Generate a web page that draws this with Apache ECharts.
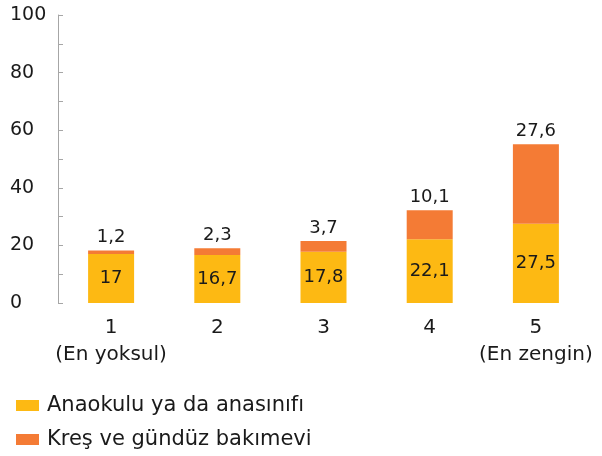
<!DOCTYPE html>
<html>
<head>
<meta charset="utf-8">
<script src="https://cdn.jsdelivr.net/npm/echarts@6/dist/echarts.min.js"></script>
<style>
html, body { margin: 0; padding: 0; background: #fff; }
#chart { width: 602px; height: 456px; }
</style>
</head>
<body>
<div id="chart"></div>
<script>
// quintiles and shares
var categories = ['1\n(En yoksul)', '2', '3', '4', '5\n(En zengin)'];
var anaokulu = [17, 16.7, 17.8, 22.1, 27.5];
var kres = [1.2, 2.3, 3.7, 10.1, 27.6];
var seriesNames = ['Anaokulu ya da anasınıfı', 'Kreş ve gündüz bakımevi'];

var chart = echarts.init(document.getElementById('chart'));

function comma(p) {
  return String(p.value).replace('.', ',');
}

var option = {
  backgroundColor: '#fff',
  textStyle: { fontFamily: 'DejaVu Sans', color: '#1a1a1a' },
  grid: { left: 58, right: 13, top: 15, bottom: 153 },
  legend: {
    orient: 'vertical',
    left: 11,
    top: 390,
    itemWidth: 23,
    itemHeight: 11,
    itemGap: 13,
    icon: 'rect',
    textStyle: { fontSize: 21, color: '#1a1a1a', padding: [0, 0, 0, 3] },
    data: seriesNames
  },
  xAxis: {
    type: 'category',
    data: categories,
    axisLine: { show: false },
    axisTick: { show: false },
    axisLabel: { interval: 0, fontSize: 20, color: '#1a1a1a', margin: 11, lineHeight: 27 }
  },
  yAxis: {
    type: 'value',
    min: 0,
    max: 100,
    interval: 10,
    axisLine: { show: true, lineStyle: { color: '#a6a6a6' } },
    axisTick: { show: true, inside: true, length: 5, lineStyle: { color: '#a6a6a6' } },
    splitLine: { show: false },
    axisLabel: {
      fontSize: 19,
      color: '#1a1a1a',
      align: 'left',
      margin: 48,
      formatter: function (v) { return v % 20 === 0 ? v : ''; }
    }
  },
  series: [{
    name: seriesNames[0],
    type: 'bar',
    stack: 'total',
    barWidth: 46,
    itemStyle: { color: '#fdb913' },
    label: { show: true, position: 'inside', fontSize: 18, color: '#1a1a1a', formatter: comma },
    data: anaokulu
  }, {
    name: seriesNames[1],
    type: 'bar',
    stack: 'total',
    barWidth: 46,
    itemStyle: { color: '#f47b35' },
    label: { show: true, position: 'top', distance: 4, fontSize: 18, color: '#1a1a1a', formatter: comma },
    data: kres
  }]
};

chart.setOption(option);
</script>
</body>
</html>
